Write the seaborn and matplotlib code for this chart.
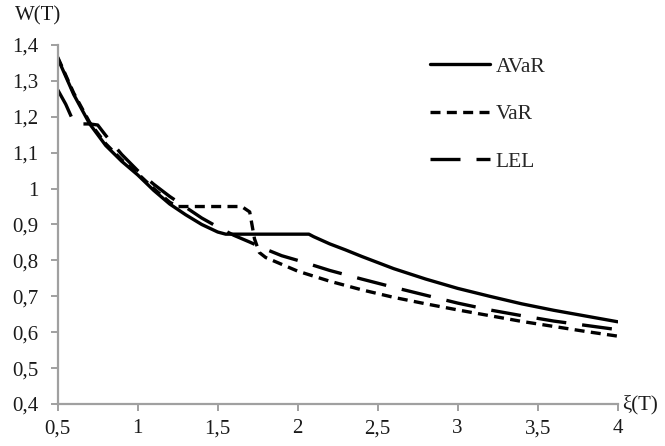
import seaborn as sns
import matplotlib.pyplot as plt
import pandas as pd

# values
avar_x = [0.5, 0.6, 0.7, 0.8, 0.9, 1.0, 1.1, 1.2, 1.3, 1.4, 1.5, 1.55, 1.6, 1.8, 2.0, 2.07,
          2.1, 2.2, 2.3, 2.4, 2.5, 2.6, 2.8, 3.0, 3.2, 3.4, 3.6, 3.8, 4.0]
avar_y = [1.363, 1.262, 1.180, 1.120, 1.076, 1.038, 0.995, 0.957, 0.927, 0.900, 0.879, 0.873, 0.873,
          0.873, 0.873, 0.873, 0.866, 0.846, 0.829, 0.811, 0.794, 0.777, 0.748, 0.722, 0.700, 0.679,
          0.661, 0.645, 0.629]

var_x = [0.5, 0.6, 0.7, 0.8, 0.9, 1.0, 1.1, 1.2, 1.25, 1.3, 1.5, 1.65, 1.7, 1.73, 1.76, 1.8,
         2.0, 2.2, 2.4, 2.6, 2.8, 3.0, 3.2, 3.4, 3.6, 3.8, 4.0]
var_y = [1.366, 1.266, 1.184, 1.125, 1.080, 1.042, 1.000, 0.962, 0.950, 0.950, 0.950, 0.950, 0.935,
         0.860, 0.822, 0.808, 0.770, 0.742, 0.718, 0.697, 0.679, 0.662, 0.646, 0.630, 0.616, 0.602,
         0.589]

lel_x = [0.5, 0.55, 0.6, 0.65, 0.7, 0.75, 0.8, 0.9, 1.0, 1.1, 1.2, 1.3, 1.4, 1.5, 1.6, 1.7,
         1.8, 1.9, 2.0, 2.2, 2.4, 2.6, 2.8, 3.0, 3.2, 3.4, 3.6, 3.8, 4.0]
lel_y = [1.275, 1.235, 1.185, 1.180, 1.180, 1.177, 1.148, 1.095, 1.050, 1.012, 0.978, 0.948, 0.918,
         0.893, 0.870, 0.851, 0.831, 0.813, 0.800, 0.772, 0.748, 0.725, 0.703, 0.681, 0.662, 0.646,
         0.631, 0.619, 0.607]

series = ["AVaR", "VaR", "LEL"]
x_ticks = [0.5, 1, 1.5, 2, 2.5, 3, 3.5, 4]
y_ticks = [0.4, 0.5, 0.6, 0.7, 0.8, 0.9, 1.0, 1.1, 1.2, 1.3, 1.4]

df = pd.concat([
    pd.DataFrame({"x": avar_x, "y": avar_y, "method": "AVaR"}),
    pd.DataFrame({"x": var_x, "y": var_y, "method": "VaR"}),
    pd.DataFrame({"x": lel_x, "y": lel_y, "method": "LEL"}),
])

sns.set_style("ticks")
plt.rcParams["font.family"] = ["Liberation Serif", "DejaVu Serif"]

fig = plt.figure(figsize=(6.65, 4.46), dpi=100)
ax = fig.add_axes([0.0868, 0.0942, 0.842, 0.805])

sns.lineplot(
    data=df, x="x", y="y",
    hue="method", style="method",
    hue_order=series, style_order=series,
    palette={s: "black" for s in series},
    dashes={"AVaR": "", "VaR": (3.0, 1.9), "LEL": (9.0, 4.8)},
    linewidth=2.4, estimator=None, sort=True, ax=ax,
)

ax.set_xlim(0.5, 4)
ax.set_ylim(0.4, 1.4)
ax.set_xticks(x_ticks)
ax.set_yticks(y_ticks)
ax.set_xticklabels([f"{t:g}".replace(".", ",") for t in x_ticks])
ax.set_yticklabels([f"{t:g}".replace(".", ",") for t in y_ticks])
ax.set_xlabel("")
ax.set_ylabel("")

for side in ["top", "right"]:
    ax.spines[side].set_visible(False)
for side in ["left", "bottom"]:
    ax.spines[side].set_color("#a0a0a0")
    ax.spines[side].set_linewidth(1.6)
ax.tick_params(axis="both", colors="#a0a0a0", width=1.4, length=5,
               labelsize=15, labelcolor="#1a1a1a")
ax.tick_params(axis="x", pad=6)
ax.tick_params(axis="y", pad=9)

handles, labels = ax.get_legend_handles_labels()
ax.legend(handles, labels, loc="upper left", bbox_to_anchor=(0.630, 0.897),
          bbox_transform=fig.transFigure, frameon=False, fontsize=15.5,
          handlelength=2.8, handletextpad=0.25, labelspacing=1.28, borderpad=0)

fig.text(15 / 665, 1 - 16 / 446, "W(T)", fontsize=15, ha="left", va="center", color="#1a1a1a")
fig.text(622 / 665, 1 - 405 / 446, "ξ(T)", fontsize=15, ha="left", va="center", color="#1a1a1a")

plt.savefig("out.png", dpi=100)
